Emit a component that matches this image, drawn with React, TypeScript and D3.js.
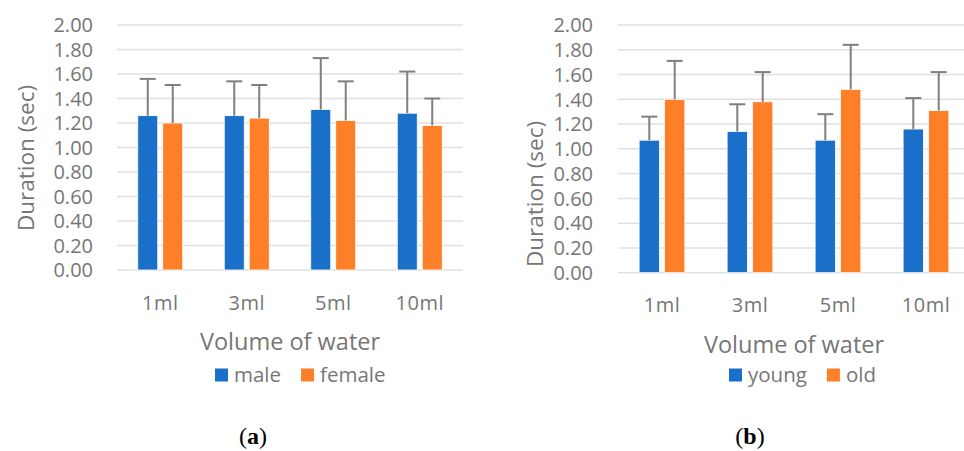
import React, { useRef, useEffect } from "react";
import * as d3 from "d3";

const categories = ["1ml", "3ml", "5ml", "10ml"];
const yTicks = [0, 0.2, 0.4, 0.6, 0.8, 1.0, 1.2, 1.4, 1.6, 1.8, 2.0];

// panel (a): sex
const sexSeries = ["male", "female"];
const maleMean = [1.26, 1.26, 1.31, 1.28];
const maleErr = [0.3, 0.28, 0.42, 0.34];
const femaleMean = [1.2, 1.24, 1.22, 1.18];
const femaleErr = [0.31, 0.27, 0.32, 0.22];

// panel (b): age
const ageSeries = ["young", "old"];
const youngMean = [1.07, 1.14, 1.07, 1.16];
const youngErr = [0.19, 0.22, 0.21, 0.25];
const oldMean = [1.4, 1.38, 1.48, 1.31];
const oldErr = [0.31, 0.24, 0.36, 0.31];

const BLUE = "#1a70c8";
const ORANGE = "#fd7f27";
const GREY = "#767676";
const FONT = "'Open Sans', sans-serif";

const panels = [
  {
    label: "a",
    left: 117, right: 463, top: 25, bottom: 270,
    tickRight: 93, titleX: 26, titleY: 158,
    xLabelY: 303, axisTitleY: 342, legendY: 375, legendX: 215,
    captionX: 253,
    series: sexSeries,
    means: [maleMean, femaleMean],
    errs: [maleErr, femaleErr],
  },
  {
    label: "b",
    left: 618, right: 970, top: 25, bottom: 272.7,
    tickRight: 593, titleX: 535, titleY: 194,
    xLabelY: 305, axisTitleY: 345, legendY: 375, legendX: 729,
    captionX: 750,
    series: ageSeries,
    means: [youngMean, oldMean],
    errs: [youngErr, oldErr],
  },
];

export default function App() {
  const ref = useRef<SVGSVGElement>(null);

  useEffect(() => {
    const svg = d3.select(ref.current);
    svg.selectAll("*").remove();
    const colors = [BLUE, ORANGE];

    panels.forEach((p) => {
      const g = svg.append("g");
      const y = d3.scaleLinear().domain([0, 2]).range([p.bottom, p.top]);
      const x0 = d3.scaleBand().domain(categories).range([p.left, p.right]);
      const bw = x0.bandwidth();
      const x1 = d3
        .scaleBand()
        .domain(p.series)
        .range([bw * 0.24, bw * 0.76])
        .paddingInner(0.2);

      // gridlines
      g.append("g")
        .selectAll("line")
        .data(yTicks)
        .join("line")
        .attr("x1", p.left)
        .attr("x2", p.right)
        .attr("y1", (d) => y(d))
        .attr("y2", (d) => y(d))
        .attr("stroke", "#e0e0e0")
        .attr("stroke-width", 1.5);

      // y tick labels
      g.append("g")
        .selectAll("text")
        .data(yTicks)
        .join("text")
        .attr("x", p.tickRight)
        .attr("y", (d) => y(d))
        .attr("dy", "0.36em")
        .attr("text-anchor", "end")
        .attr("fill", GREY)
        .attr("font-family", FONT)
        .attr("font-size", 20)
        .text((d) => d.toFixed(2));

      // y title
      g.append("text")
        .attr("transform", `translate(${p.titleX},${p.titleY}) rotate(-90)`)
        .attr("text-anchor", "middle")
        .attr("dy", "0.36em")
        .attr("fill", GREY)
        .attr("font-family", FONT)
        .attr("font-size", 22.5)
        .text("Duration (sec)");

      // bars
      p.series.forEach((s, si) => {
        const mean = p.means[si];
        const err = p.errs[si];
        const bars = g.append("g");
        bars
          .selectAll("rect")
          .data(categories)
          .join("rect")
          .attr("x", (c) => x0(c)! + x1(s)!)
          .attr("width", x1.bandwidth())
          .attr("y", (c, i) => y(mean[i]))
          .attr("height", (c, i) => y(0) - y(mean[i]))
          .attr("fill", colors[si])
          .attr("stroke", "#fff")
          .attr("stroke-width", 0.8);

        const eb = g.append("g").attr("stroke", "#7f7f7f").attr("stroke-width", 2);
        categories.forEach((c, i) => {
          const cx = x0(c)! + x1(s)! + x1.bandwidth() / 2;
          eb.append("line")
            .attr("x1", cx).attr("x2", cx)
            .attr("y1", y(mean[i]))
            .attr("y2", y(mean[i] + err[i]));
          eb.append("line")
            .attr("x1", cx - 8).attr("x2", cx + 8)
            .attr("y1", y(mean[i] + err[i]))
            .attr("y2", y(mean[i] + err[i]));
        });
      });

      // x labels
      g.append("g")
        .selectAll("text")
        .data(categories)
        .join("text")
        .attr("x", (c) => x0(c)! + bw / 2)
        .attr("y", p.xLabelY)
        .attr("dy", "0.36em")
        .attr("text-anchor", "middle")
        .attr("fill", GREY)
        .attr("font-family", FONT)
        .attr("font-size", 20)
        .attr("letter-spacing", 0.5)
        .text((c) => c);

      g.append("text")
        .attr("x", (p.left + p.right) / 2)
        .attr("y", p.axisTitleY)
        .attr("dy", "0.36em")
        .attr("text-anchor", "middle")
        .attr("fill", GREY)
        .attr("font-family", FONT)
        .attr("font-size", 23.5)
        .text("Volume of water");

      // legend
      let lx = p.legendX;
      p.series.forEach((s, si) => {
        g.append("rect")
          .attr("x", lx)
          .attr("y", p.legendY - 6.5)
          .attr("width", 13)
          .attr("height", 13)
          .attr("fill", colors[si]);
        const t = g
          .append("text")
          .attr("x", lx + 19)
          .attr("y", p.legendY)
          .attr("dy", "0.36em")
          .attr("fill", GREY)
          .attr("font-family", FONT)
          .attr("font-size", 20.5)
          .text(s);
        const w = (t.node() as SVGTextElement).getComputedTextLength();
        lx += 19 + w + 20;
      });

      // caption
      const cap = g
        .append("text")
        .attr("x", p.captionX)
        .attr("y", 444)
        .attr("text-anchor", "middle")
        .attr("font-family", "'Liberation Serif', serif")
        .attr("font-size", 24)
        .attr("fill", "#000");
      cap.append("tspan").text("(");
      cap.append("tspan").attr("font-weight", "bold").text(p.label);
      cap.append("tspan").text(")");
    });
  }, []);

  return (
    <div style={{ position: "absolute", left: 0, top: 0 }}>
      <svg ref={ref} width={964} height={451} style={{ display: "block", background: "#fff" }} />
    </div>
  );
}
